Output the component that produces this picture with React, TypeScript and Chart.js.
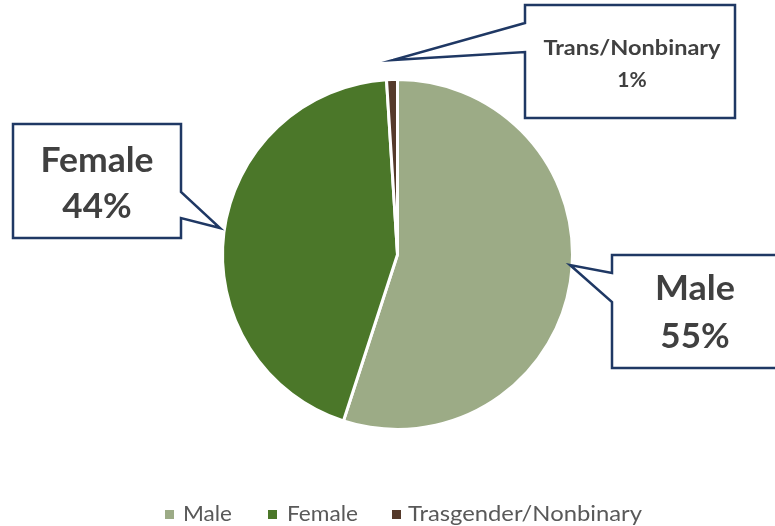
import React, { useEffect, useRef } from "react";
import { Chart, registerables } from "chart.js";

Chart.register(...registerables);

const categories = ["Male", "Female", "Trans/Nonbinary"];
const legendLabels = ["Male", "Female", "Trasgender/Nonbinary"];
const values = [55, 44, 1];
const percentLabels = ["55%", "44%", "1%"];
const colors = ["#9CAB86", "#4B7729", "#553A2B"];

const NAVY = "#1F3864";
const TEXT = "#404040";
const FONT = "Lato, 'Open Sans', sans-serif";

type Pt = [number, number];

function drawCallout(ctx: CanvasRenderingContext2D, pts: Pt[]) {
  ctx.save();
  ctx.beginPath();
  ctx.moveTo(pts[0][0], pts[0][1]);
  for (let i = 1; i < pts.length; i++) ctx.lineTo(pts[i][0], pts[i][1]);
  ctx.closePath();
  ctx.fillStyle = "#FFFFFF";
  ctx.fill();
  ctx.lineWidth = 2.5;
  ctx.strokeStyle = NAVY;
  ctx.lineJoin = "miter";
  ctx.stroke();
  ctx.restore();
}

function drawText(ctx: CanvasRenderingContext2D, text: string, x: number, y: number, size: number, bold: boolean, color: string, width?: number) {
  ctx.save();
  ctx.font = `${bold ? "bold " : ""}${size}px ${FONT}`;
  ctx.fillStyle = color;
  ctx.textAlign = "center";
  ctx.textBaseline = "alphabetic";
  if (width) {
    const w = ctx.measureText(text).width;
    const s = width / w;
    ctx.translate(x, y);
    ctx.scale(s, 1);
    ctx.fillText(text, 0, 0);
  } else {
    ctx.fillText(text, x, y);
  }
  ctx.restore();
}

const overlayPlugin = {
  id: "overlay",
  afterDraw(chart: any) {
    const ctx: CanvasRenderingContext2D = chart.ctx;
    // Female callout
    drawCallout(ctx, [[13, 124], [181, 124], [181, 192], [220, 228], [181, 218], [181, 238], [13, 238]]);
    drawText(ctx, categories[1], 97, 172, 35, true, TEXT, 113);
    drawText(ctx, percentLabels[1], 97, 218, 35, true, TEXT);
    // Male callout
    drawCallout(ctx, [[612, 255], [790, 255], [790, 368], [612, 368], [612, 302], [570, 265], [612, 273]]);
    drawText(ctx, categories[0], 695, 300, 35, true, TEXT, 80);
    drawText(ctx, percentLabels[0], 695, 348, 35, true, TEXT);
    // Trans callout
    drawCallout(ctx, [[525, 5], [735, 5], [735, 118], [525, 118], [525, 52], [393, 60], [525, 23]]);
    drawText(ctx, categories[2], 632, 55, 21, true, TEXT, 177);
    drawText(ctx, percentLabels[2], 632, 87, 21, true, TEXT);

    // Legend
    const mx = [165, 268, 392];
    const tx = [183, 287, 408];
    const tw = [49, 71, 234];
    ctx.save();
    ctx.font = `21px ${FONT}`;
    ctx.textBaseline = "alphabetic";
    ctx.textAlign = "left";
    for (let i = 0; i < legendLabels.length; i++) {
      ctx.fillStyle = colors[i];
      ctx.fillRect(mx[i], 510, 9, 9);
      ctx.fillStyle = "#595959";
      const w = ctx.measureText(legendLabels[i]).width;
      ctx.save();
      ctx.translate(tx[i], 521);
      ctx.scale(tw[i] / w, 1);
      ctx.fillText(legendLabels[i], 0, 0);
      ctx.restore();
    }
    ctx.restore();
  },
};

export default function App() {
  const ref = useRef<HTMLCanvasElement | null>(null);
  useEffect(() => {
    if (!ref.current) return;
    const chart = new Chart(ref.current, {
      type: "pie",
      data: {
        labels: categories,
        datasets: [
          {
            data: values,
            backgroundColor: colors,
            borderColor: "#FFFFFF",
            borderWidth: 3,
          },
        ],
      },
      options: {
        animation: false,
        responsive: false,
        maintainAspectRatio: false,
        layout: { padding: { top: 78, bottom: 95, left: 221, right: 201 } },
        plugins: {
          legend: { display: false },
          tooltip: { enabled: false },
        },
      },
      plugins: [overlayPlugin],
    });
    return () => chart.destroy();
  }, []);
  return (
    <div style={{ position: "fixed", left: 0, top: 0, width: 775, height: 526, background: "#fff" }}>
      <canvas ref={ref} width={775} height={526} style={{ width: 775, height: 526 }} />
    </div>
  );
}
